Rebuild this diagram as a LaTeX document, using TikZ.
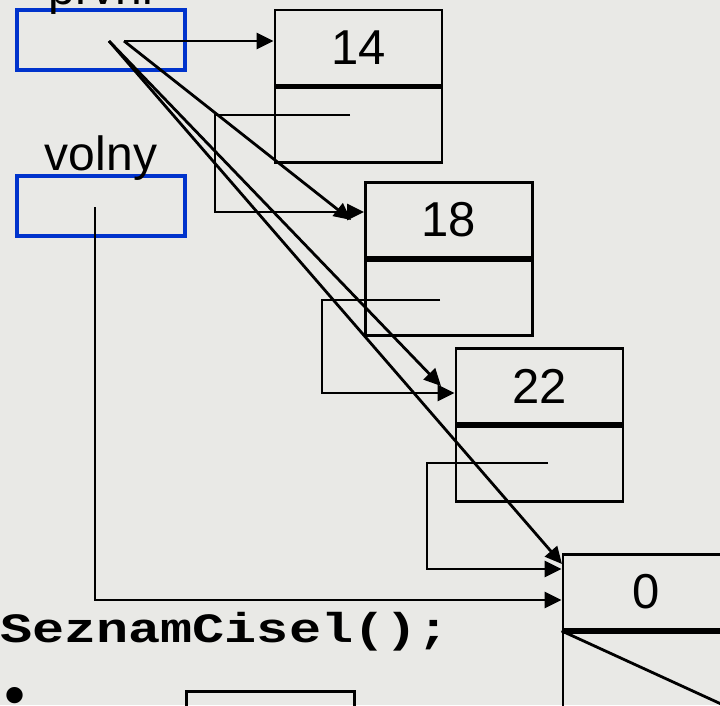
\documentclass[tikz,border=0pt]{standalone}
\usepackage{fontspec}
\setmainfont{Liberation Sans}
\newfontfamily\codefont{Liberation Mono}
\usepackage{tikz}
\usetikzlibrary{calc,arrows.meta,positioning}
\definecolor{slidebg}{RGB}{233,233,230}
\definecolor{varblue}{RGB}{0,51,204}
\tikzset{
  cell/.style={draw,line width=2.8pt,minimum width=167pt,minimum height=75pt,
    inner sep=0pt,font=\fontsize{49}{50}\selectfont},
  var/.style={draw=varblue,line width=4.5pt,minimum width=168pt,minimum height=60pt,inner sep=0pt},
  varname/.style={font=\fontsize{48}{50}\selectfont,inner sep=0pt},
  link/.style={line width=2.8pt,-{Triangle[length=17pt,width=16pt]}},
}

\begin{document}
\begin{tikzpicture}[x=1pt,y=-1pt]
  \useasboundingbox (0,0) rectangle (720,705);
  \fill[slidebg] (0,0) rectangle (720,705);
  \clip (0,0) rectangle (720,705);

  % promenne
  \node[var] (prvni) at (101,40) {};
  \node[var] (volny) at (101,206) {};
  \node[varname,anchor=base] (lprvni) at (101,4) {prvni};
  \node[varname,anchor=base] (lvolny) at (101,170) {volny};

  % prvky seznamu: hodnota nahore, dalsi dole
  \node[cell] (v14) at (358.5,47.5) {14};
  \node[cell,anchor=north] (n14) at (v14.south) {};
  \node[cell] (v18) at (449,220) {18};
  \node[cell,anchor=north] (n18) at (v18.south) {};
  \node[cell] (v22) at (539.5,386) {22};
  \node[cell,anchor=north] (n22) at (v22.south) {};
  \node[cell] (v0) at (646.5,592) {0};
  \node[cell,anchor=north] (n0) at (v0.south) {};
  \draw[line width=2.8pt] (n0.north west) -- (n0.south east);

  % zacatky ukazatelu
  \coordinate (p1) at (124,41);
  \coordinate (p2) at (109,41);
  \coordinate (p14) at (350,115);
  \coordinate (p18) at (440,300);
  \coordinate (p22) at (548,463);
  \coordinate (pv) at (95,207);

  % prvni ukazuje na vsechny prvky
  \draw[link] (p1) -- (v14.west |- p1);
  \draw[link] (p1) -- (351,220);
  \draw[link] (p2) -- (441,386);
  \draw[link] (p2) -- (562,564);

  % dalsi
  \draw[link] (p14) -- (215,115) |- ($(v18.west)+(0,-8)$);
  \draw[link] (p18) -- (322,300) |- ($(v22.west)+(0,7)$);
  \draw[link] (p22) -- (427,463) |- ($(v0.west)+(0,-23)$);
  \draw[link] (pv) |- ($(v0.west)+(0,8)$);

  % kod
  \node[anchor=base west,inner sep=0pt,font=\codefont\bfseries\fontsize{53.5}{56}\selectfont]
    (kod) at (0,642) {\scalebox{1}[0.78]{SeznamCisel();}};
  \node[anchor=center,inner sep=0pt,font=\fontsize{60}{60}\selectfont] (bod) at (15,701) {\textbullet};
  \node[draw,line width=2.8pt,minimum width=168pt,minimum height=60pt,anchor=north west] (dalsi) at (185,690) {};
\end{tikzpicture}
\end{document}
